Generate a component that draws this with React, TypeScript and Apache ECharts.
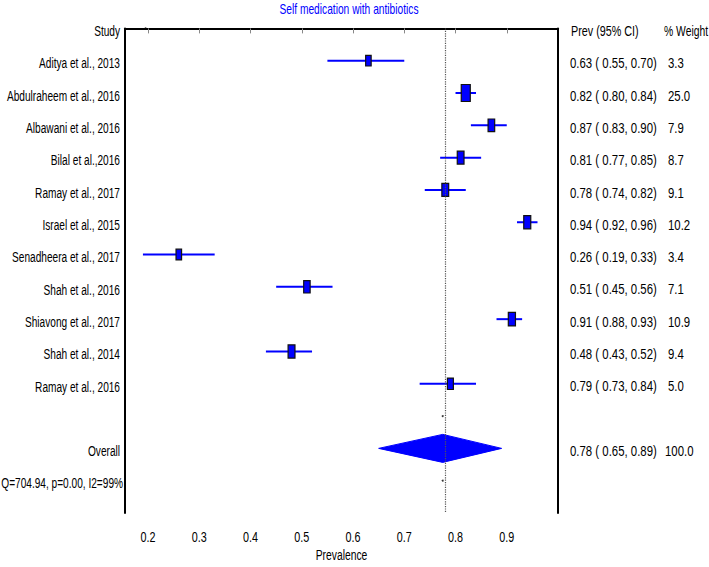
import React, { useEffect, useRef } from "react";
import * as echarts from "echarts";

const titleText = "Self medication with antibiotics";
const xAxisTitle = "Prevalence";
const studies = [
  "Aditya et al., 2013",
  "Abdulraheem et al., 2016",
  "Albawani et al., 2016",
  "Bilal et al.,2016",
  "Ramay et al., 2017",
  "Israel et al., 2015",
  "Senadheera et al., 2017",
  "Shah et al., 2016",
  "Shiavong et al., 2017",
  "Shah et al., 2014",
  "Ramay et al., 2016",
];
const prev = [0.63, 0.82, 0.87, 0.81, 0.78, 0.94, 0.26, 0.51, 0.91, 0.48, 0.79];
const lower = [0.55, 0.8, 0.83, 0.77, 0.74, 0.92, 0.19, 0.45, 0.88, 0.43, 0.73];
const upper = [0.7, 0.84, 0.9, 0.85, 0.82, 0.96, 0.33, 0.56, 0.93, 0.52, 0.84];
const weights = [3.3, 25.0, 7.9, 8.7, 9.1, 10.2, 3.4, 7.1, 10.9, 9.4, 5.0];
const overallEst = 0.775;
const overallLo = 0.65;
const overallHi = 0.89;
const overallWeight = 100.0;
const heterogeneity = "Q=704.94, p=0.00, I2=99%";
const headers = ["Study", "Prev (95% CI)", "% Weight"];
const xTicks = [0.2, 0.3, 0.4, 0.5, 0.6, 0.7, 0.8, 0.9];
const dotPoints = [
  [0.195, 0],
  [0.775, 12],
  [0.775, 14],
];

const FONT = "'Liberation Sans', Arial, sans-serif";
const BLUE = "#0000ff";

const f2 = (v: number) => (Math.round(v * 100) / 100).toFixed(2);

export default function App() {
  const ref = useRef<HTMLDivElement>(null);
  useEffect(() => {
    if (!ref.current) return;
    const chart = echarts.init(ref.current, null, { renderer: "svg" });

    const overallRow = studies.length + 2;
    const hetRow = studies.length + 3;

    const data: number[][] = studies.map((_, i) => [prev[i], lower[i], upper[i], i + 1, weights[i], 0]);
    data.push([overallEst, overallLo, overallHi, overallRow, overallWeight, 1]);

    const option: any = {
      animation: false,
      grid: {
        left: 125,
        right: 151,
        top: 28.4,
        bottom: 54,
        containLabel: false,
        outerBoundsMode: "none",
      },
      xAxis: {
        type: "value",
        min: 0.155,
        max: 1.0,
        axisLine: { show: true, lineStyle: { color: "#000", width: 2 } },
        axisTick: { show: true, length: 5, customValues: xTicks, lineStyle: { color: "#888" } },
        axisLabel: { show: false, customValues: xTicks },
        splitLine: { show: false },
      },
      yAxis: [
        {
          type: "value",
          min: 0,
          max: 15,
          inverse: true,
          position: "left",
          axisLine: { show: true, lineStyle: { color: "#000", width: 2 } },
          axisTick: { show: false },
          splitLine: { show: false },
          axisLabel: { show: false },
        },
        {
          type: "value",
          min: 0,
          max: 15,
          inverse: true,
          position: "right",
          axisLine: { show: true, lineStyle: { color: "#000", width: 2 } },
          axisTick: { show: false },
          splitLine: { show: false },
          axisLabel: { show: false },
        },
      ],
      series: [
        {
          type: "custom",
          data,
          clip: false,
          renderItem: (params: any, api: any) => {
            const est = api.value(0);
            const lo = api.value(1);
            const hi = api.value(2);
            const row = api.value(3);
            const w = api.value(4);
            const kind = api.value(5);
            const c = api.coord([est, row]);
            const pl = api.coord([lo, row]);
            const ph = api.coord([hi, row]);
            if (kind === 1) {
              return {
                type: "polygon",
                shape: {
                  points: [
                    [pl[0], c[1]],
                    [c[0], c[1] - 14],
                    [ph[0], c[1]],
                    [c[0], c[1] + 14],
                  ],
                },
                style: { fill: BLUE, stroke: BLUE, lineWidth: 1 },
              };
            }
            const bw = 3.5 + 1.1 * Math.sqrt(w);
            const bh = 7 + 2 * Math.sqrt(w);
            return {
              type: "group",
              children: [
                {
                  type: "line",
                  shape: { x1: pl[0], y1: pl[1], x2: ph[0], y2: ph[1] },
                  style: { stroke: BLUE, lineWidth: 2 },
                },
                {
                  type: "rect",
                  shape: { x: c[0] - bw / 2, y: c[1] - bh / 2, width: bw, height: bh },
                  style: { fill: BLUE, stroke: "#111", lineWidth: 1.2 },
                },
              ],
            };
          },
          markLine: {
            silent: true,
            symbol: "none",
            label: { show: false },
            lineStyle: { type: "dotted", color: "#555", width: 1.2 },
            data: [{ xAxis: overallEst }],
          },
          z: 3,
        },
        {
          type: "scatter",
          data: dotPoints,
          symbolSize: 2,
          itemStyle: { color: "#000" },
          z: 4,
        },
      ],
    };
    chart.setOption(option);

    // Text drawn as graphics (narrow look via horizontal scale), positioned through the axes
    const px = (x: number, row: number) => chart.convertToPixel({ gridIndex: 0 }, [x, row]) as number[];
    const gLeft = px(0.155, 0)[0];
    const gRight = px(1.0, 0)[0];
    const gBottom = px(0.155, 15)[1];
    const texts: any[] = [];
    const txt = (text: string, x: number, y: number, align: string, sx: number, color = "#000", size = 15) => ({
      type: "text",
      x,
      y,
      scaleX: sx,
      silent: true,
      style: {
        text,
        align,
        verticalAlign: "middle",
        fill: color,
        fontSize: size,
        fontFamily: FONT,
      },
    });
    const LS = 0.675;
    const RS = 0.76;
    const colA = gRight + 12;
    const colB = gRight + 110;
    const rowY = (r: number) => px(0.5, r)[1] + 2.5;

    texts.push(txt(headers[0], gLeft - 5, rowY(0), "right", LS));
    texts.push(txt(headers[1], colA + 1, rowY(0), "left", 0.72));
    texts.push(txt(headers[2], colB - 4, rowY(0), "left", 0.69));
    studies.forEach((s, i) => {
      const y = rowY(i + 1);
      texts.push(txt(s, gLeft - 5, y, "right", LS));
      texts.push(txt(`${f2(prev[i])} ( ${f2(lower[i])}, ${f2(upper[i])})`, colA, y, "left", RS));
      texts.push(txt(weights[i].toFixed(1), colB, y, "left", RS));
    });
    texts.push(txt("Overall", gLeft - 5, rowY(overallRow), "right", LS));
    texts.push(
      txt(`${f2(overallEst)} ( ${f2(overallLo)}, ${f2(overallHi)})`, colA, rowY(overallRow), "left", RS)
    );
    texts.push(txt(overallWeight.toFixed(1), colB - 3, rowY(overallRow), "left", RS));
    texts.push(txt(heterogeneity, gLeft - 2, rowY(hetRow), "right", LS));
    xTicks.forEach((t) => {
      texts.push(txt(t.toFixed(1), px(t, 15)[0], gBottom + 24, "center", 0.72));
    });
    texts.push(txt(xAxisTitle, (gLeft + gRight) / 2, gBottom + 42, "center", 0.69));
    texts.push(txt(titleText, 349, 9, "center", 0.73, BLUE, 14));

    chart.setOption({ graphic: texts });
    return () => chart.dispose();
  }, []);
  return <div ref={ref} style={{ width: 709, height: 567, position: "absolute", left: 0, top: 0 }} />;
}
